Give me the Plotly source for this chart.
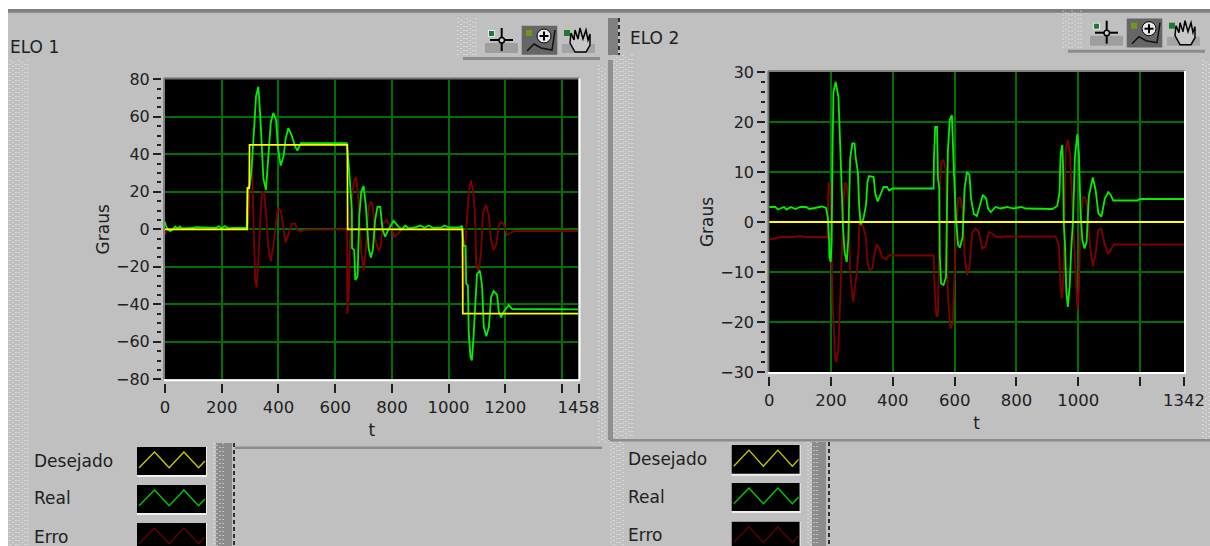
import plotly.graph_objects as go

W, H = 1210, 546

# ---- ELO 1 data ----
elo1_des_t = [0, 290, 291, 297, 298, 643, 644, 1049, 1050, 1458]
elo1_des = [0, 0, 22, 22, 45, 45, 0, 0, -45, -45]

elo1_real_t = [0, 3, 10, 18, 28, 36, 45, 52, 60, 100, 108, 180, 190, 200, 210, 225, 240, 288, 291, 298, 304, 309,
               314, 321, 329, 335, 342, 347, 356, 365, 373, 382, 392, 398, 408, 418, 425, 435, 447, 459, 467, 479, 641,
               649, 659, 659.5, 667, 671, 679, 685, 692, 700, 708, 718, 726, 733, 741, 749, 759, 767, 776, 788, 806,
               823, 835, 847, 859, 885, 900, 915, 930, 945, 975, 985, 1000, 1020, 1040, 1047, 1053, 1060, 1062, 1068,
               1071, 1077, 1082, 1088, 1094, 1100, 1110, 1118, 1124, 1133, 1142, 1150, 1159, 1171, 1177, 1185, 1194,
               1212, 1224, 1458]
elo1_real = [4, 2, 0, -1, 0, 1.5, 0.5, 1.5, 0.5, 0.7, 1.2, 0.7, 1.7, 0.5, 1.7, 0.5, 0.7, 0.7, 22, 23, 30, 40,
             53, 71, 76, 63, 41, 27, 21, 43, 57, 62, 58, 44, 34, 39, 48, 54, 50, 44, 42, 46, 46,
             32, 10, -10, -11, -27, -25, 7, 20, 23, 13, -10, -15, -11, 5, 12, 12, 0, -4, 0, 4.5,
             1.4, 0, 2, 0.5, 1.2, 2, 0.8, 2, 0.8, 1, 2, 1, 1, 1, 2, -9, -9, -29, -30,
             -55, -68, -70, -57, -39, -24, -22, -30, -52, -57, -52, -36, -33, -35, -44, -47, -44,
             -40.5, -42.5, -42.7]

elo1_err_t = [0, 8, 292, 298, 306, 309, 312, 318, 323, 329, 336, 342, 349, 356, 365, 373, 382, 392, 398, 408, 418,
              425, 435, 447, 459, 467, 479, 494, 642, 643, 649, 655, 665, 673, 680, 685, 692, 700, 708, 718, 726, 733,
              741, 753, 761, 768, 782, 794, 809, 823, 835, 1049, 1051, 1058, 1065, 1071, 1079, 1086, 1092, 1098, 1106,
              1114, 1121, 1133, 1141, 1150, 1159, 1168, 1177, 1185, 1194, 1206, 1218, 1230, 1458]
elo1_err = [-3, 0, 0, 22, 37, 20, -7, -27, -31, -18, 5, 20, 20, 9, -11, -17, -9, 5, 11.5, 10, -1,
            -7, -3, 3, 3, -0.4, -1, -0.3, 0, -45, -30, 10, 25, 28, 20, 7, -12, -22, -11, 12, 15, 12,
            -5, -11.5, -9, 3, 5, 2, -4, -2, 0, 0, -37, -10, 9, 20, 26, 21, 11, -20, -22,
            -13, 9, 13, 8, -6, -11, -8, 2, 4, 3, -3, -2, -1, -1]

# ---- ELO 2 data ----
elo2_des_t = [0, 1342]
elo2_des = [0, 0]

elo2_real_t = [0, 20, 28, 48, 56, 70, 85, 100, 120, 130, 148, 170, 184, 190, 194, 195, 199, 202, 205, 208, 215, 224,
               227, 233, 239, 244, 251, 256, 262, 269, 276, 280, 287, 291, 296, 305, 313, 318, 323, 338, 343, 351,
               359, 370, 381, 388, 399, 532, 533, 537, 543, 546, 550, 552, 556, 564, 572, 578, 584, 591, 597,
               604, 611, 617, 626, 632, 640, 648, 653, 662, 672, 681, 691, 702, 708, 717, 732, 748, 770, 790, 815, 830,
               870, 900, 916, 932, 939, 943, 948, 951, 953, 957, 961, 966, 972, 977, 983, 989, 997, 1002, 1007,
               1013, 1020, 1027, 1034, 1047, 1056, 1065, 1075, 1086, 1097, 1105, 1113, 1191, 1199, 1342]
elo2_real = [3, 3, 2.5, 3, 2.5, 3, 2.6, 3, 3, 2.6, 2.8, 3.1, 2.8, 0.7, -4, -7, -8, -4, 15, 26, 28, 25,
             20, 8, -1.3, -6, -8, -3.3, 12.7, 15.7, 15.7, 12.7, 10, 3.3, -0.5, 0.7, 3.3, 8, 9.2, 9, 5.7, 4.1,
             5.3, 7, 7, 6.3, 6.7, 6.7, 12.7, 19, 19, 8.7, 7, -7, -12.3, -12.6, -11, 14, 20.4, 21.4, 11,
             1, -4.6, -5.1, -3, 6.7, 10, 9.4, 4.7, 1.6, 1.2, 3, 5.4, 4.7, 2.7, 2, 3, 2.7, 3, 2.7, 3, 2.7,
             2.7, 2.7, 2.6, 3.2, 5.7, 13.7, 15.4, 11, -0.3, -4.3, -13.6, -17, -13, -5.6, 0.4, 13, 17.6, 13.7, 2.4,
             -3.6, -5.3, -3.9, 5.1, 8.9, 6.4, 1.7, 1.1, 4.7, 6, 5.4, 4.3, 4.3, 4.6, 4.6]

elo2_err_t = [0, 40, 75, 100, 120, 148, 184, 188, 192, 198, 200, 205, 209, 213, 217, 224, 227, 233, 239, 244, 250, 256,
              262, 267, 272, 278, 284, 289, 292, 305, 313, 318, 325, 334, 341, 348, 356, 365, 378, 386, 532, 535,
              541, 546, 548, 552, 557, 564, 572, 578, 586, 594, 599, 604, 611, 618, 626, 632, 640, 648, 656, 667,
              678, 689, 700, 710, 721, 737, 764, 818, 862, 926, 937, 943, 948, 953, 959, 966, 973, 978, 985, 991,
              997, 1002, 1007, 1015, 1024, 1029, 1037, 1047, 1056, 1065, 1074, 1085, 1096, 1105, 1115, 1342]
elo2_err = [-3.5, -3, -3, -2.8, -3, -3, -3, -3.3, 7.7, 7.7, 0, -15.7, -21.3, -27.3, -28, -25.3, -20, -8, 1.3, 7.7, 7.7, 4.7,
            -10, -13.3, -16, -12.7, -10, -5.3, -0.3, -1, -3.3, -8, -9.7, -9.3, -6.3, -4.5, -5.3, -7, -7.5, -6.7, -6.7, -13.6,
            -18.9, -18.6, -9, 7, 12, 12.4, 10.4, -14.3, -21.3, -20.3, -11.6, -3, 4.7, 4.9, 2.4, -6.6, -10.6, -9, -2.3, -1.3,
            -2, -5.3, -4.9, -2, -2.3, -3, -2.9, -2.9, -2.9, -2.9, -4.6, -13.6, -15.3, -9.6, 14.4, 16.4, 13.7, 7, -3, -12.3,
            -17.6, -13.6, -0.3, 5, 4.7, 3, -4.3, -8.9, -6.3, -1.6, -1.3, -4.3, -6.4, -5.6, -4.5, -4.5]

elo1_xticks = [0, 200, 400, 600, 800, 1000, 1200, 1400, 1458]
elo1_xlabels = ["0", "200", "400", "600", "800", "1000", "1200", "", "1458"]
elo1_yticks = [-80, -60, -40, -20, 0, 20, 40, 60, 80]
elo2_xticks = [0, 200, 400, 600, 800, 1000, 1200, 1342]
elo2_xlabels = ["0", "200", "400", "600", "800", "1000", "", "1342"]
elo2_yticks = [-30, -20, -10, 0, 10, 20, 30]
legend_names = ["Desejado", "Real", "Erro"]

# ---- style ----
BG = "#c0c0c0"
GRID = "#007000"
YEL, GRN, RED = "#ffff00", "#00f000", "#800000"
FONT = "DejaVu Sans"
TXT = "#202020"


def px(x):
    return x / W


def py(y):
    return 1 - y / H


shapes = []


def rect(x0, y0, x1, y1, fill, layer="below"):
    shapes.append(dict(type="rect", xref="paper", yref="paper", x0=px(x0), x1=px(x1), y0=py(y0), y1=py(y1),
                       fillcolor=fill, line=dict(width=0), layer=layer))


def line(x0, y0, x1, y1, color, width=1, dash="solid", layer="below"):
    shapes.append(dict(type="line", xref="paper", yref="paper", x0=px(x0), x1=px(x1), y0=py(y0), y1=py(y1),
                       line=dict(color=color, width=width, dash=dash), layer=layer))


def path(points, color, width=1, fill=None, layer="below"):
    d = "M " + " L ".join(f"{px(a):.5f},{py(b):.5f}" for a, b in points)
    s = dict(type="path", xref="paper", yref="paper", path=d, line=dict(color=color, width=width), layer=layer)
    if fill:
        s["path"] = d + " Z"
        s["fillcolor"] = fill
    shapes.append(s)


def speckle(x0, y0, x1, y1, color="#f0f0f0", step=3):
    x = x0
    i = 0
    while x < x1:
        line(x, y0 + (i % 3) * 2, x, y1, color, 1, "1px,3px")
        x += step
        i += 1


def toolbar(dx, dy):
    speckle(458 + dx, 18 + dy, 478 + dx, 55 + dy)
    rect(463 + dx, 57 + dy, 600 + dx, 60 + dy, "#8c8c8c")
    # crosshair button
    rect(485 + dx, 43 + dy, 518 + dx, 53 + dy, "#9e9e9e")
    rect(488 + dx, 30 + dy, 495 + dx, 37 + dy, "#e8e8e8")
    rect(489 + dx, 31 + dy, 494 + dx, 36 + dy, "#1f7a2f")
    line(490 + dx, 40 + dy, 513 + dx, 40 + dy, "#000000", 2)
    line(501.7 + dx, 28 + dy, 501.7 + dx, 51 + dy, "#000000", 2)
    shapes.append(dict(type="circle", xref="paper", yref="paper", x0=px(499 + dx), x1=px(504.5 + dx),
                       y0=py(43 + dy), y1=py(37.5 + dy), fillcolor="#d0d0d0",
                       line=dict(color="#000000", width=1.5), layer="below"))
    # zoom button
    rect(521.7 + dx, 25.7 + dy, 557.3 + dx, 54.7 + dy, "#666666")
    rect(526 + dx, 30 + dy, 532 + dx, 36 + dy, "#6a9a20")
    shapes.append(dict(type="circle", xref="paper", yref="paper", x0=px(537 + dx), x1=px(551 + dx),
                       y0=py(43 + dy), y1=py(29 + dy), fillcolor="#e8e8e8",
                       line=dict(color="#000000", width=1), layer="below"))
    line(539.5 + dx, 36 + dy, 548.5 + dx, 36 + dy, "#000000", 2)
    line(544 + dx, 31.5 + dy, 544 + dx, 40.5 + dy, "#000000", 2)
    path([(527 + dx, 51 + dy), (534 + dx, 44 + dy), (541 + dx, 48 + dy), (552 + dx, 50 + dy), (555 + dx, 30 + dy)],
         "#101010", 1.5)
    # hand button
    rect(562 + dx, 44 + dy, 595 + dx, 53 + dy, "#a4a4a4")
    rect(564 + dx, 30 + dy, 570 + dx, 36 + dy, "#1f7a2f")
    path([(575 + dx, 52 + dy), (570 + dx, 43 + dy), (571 + dx, 33 + dy), (574 + dx, 40 + dy), (575 + dx, 30 + dy),
          (578 + dx, 39 + dy), (580 + dx, 28 + dy), (583 + dx, 39 + dy), (586 + dx, 30 + dy), (588 + dx, 40 + dy),
          (590 + dx, 34 + dy), (590 + dx, 45 + dy), (586 + dx, 52 + dy)], "#000000", 1.5, fill="#c8c8c8")


# page frame
rect(0, 0, W, 9, "#ffffff")
rect(0, 0, 8, H, "#ffffff")
rect(8, 9, W, 12.7, "#808080")

# strips
speckle(10, 60, 30, H)
speckle(599, 65, 608, 443)
speckle(614, 55, 633, 440)
speckle(1203, 60, 1210, 440)
speckle(611, 442, 626, H)
rect(608, 18, 618, 55, "#808080")
line(619, 18, 619, 55, "#000000", 1.5, "4px,3px")
rect(608, 60, 613, 440, "#909090")
rect(610, 439, W, 441.5, "#8c8c8c")
rect(235, 446.5, 602, 449, "#8c8c8c")
rect(216, 443, 232, H, "#8c8c8c")
speckle(214, 443, 224, H)
line(234, 443, 234, H, "#000000", 1.5, "4px,3px")
rect(812, 442, 826, H, "#8c8c8c")
speckle(808, 442, 818, H)
line(829, 442, 829, H, "#000000", 1.5, "4px,3px")

toolbar(0, 0)
toolbar(605, -7.3)

# plot edges
P1 = (165, 79.3, 578.5, 379.3)
P2 = (769.2, 72, 1184, 372)
for (l, t, r, b) in (P1, P2):
    line(l - 1, t - 1, r + 1, t - 1, "#6e6e6e", 1.5, layer="above")
    line(l - 1, t - 1, l - 1, b, "#6e6e6e", 1.5, layer="above")
    line(r + 1, t - 1, r + 1, b + 1.5, "#ffffff", 2, layer="above")
    line(l - 1, b + 1, r + 1, b + 1, "#ffffff", 2, layer="above")

# legend swatches
wave_x = [0.03, 0.25, 0.46, 0.67, 0.88, 0.97]
wave_y = [0.74, 0.18, 0.74, 0.18, 0.74, 0.5]
sw_cols = ["#cccc00", "#00cc00", "#660000"]
for (x0, x1, ys) in (
        (137, 207, [(447, 475), (485, 513), (523, 551)]),
        (731.7, 800.6, [(445, 473.7), (483, 511), (521.7, 550)])):
    for (y0, y1), col in zip(ys, sw_cols):
        rect(x0, y0, x1, min(y1 + 2, H), "#f0f0f0")
        rect(x0, y0, x1 - 1, y1, "#000000")
        pts = [(x0 + (x1 - x0) * a, y0 + (y1 - y0) * b) for a, b in zip(wave_x, wave_y)]
        path(pts, col, 1.3)

fig = go.Figure()
for (tr, xa, ya, data) in (
        ("ELO 1", "x", "y", ((elo1_err_t, elo1_err, "Erro", RED, 1.8), (elo1_real_t, elo1_real, "Real", GRN, 1.8),
                             (elo1_des_t, elo1_des, "Desejado", YEL, 1.7))),
        ("ELO 2", "x2", "y2", ((elo2_err_t, elo2_err, "Erro", RED, 1.8), (elo2_real_t, elo2_real, "Real", GRN, 1.8),
                               (elo2_des_t, elo2_des, "Desejado", YEL, 1.8)))):
    for (tv, yv, name, col, w) in data:
        fig.add_trace(go.Scatter(x=tv, y=yv, mode="lines", name=name, xaxis=xa, yaxis=ya,
                                 line=dict(color=col, width=w), showlegend=False, hoverinfo="skip"))


def xaxis(P, rng, tv, tt, title):
    return dict(domain=[px(P[0]), px(P[2])], range=rng, anchor="free", position=py(P[3] + 4), side="bottom",
                tickmode="array", tickvals=tv, ticktext=tt, ticks="outside", ticklen=9, tickwidth=1.5,
                tickcolor="#202020", showline=False, zeroline=False, showgrid=True, gridcolor=GRID, gridwidth=1.6,
                tickfont=dict(family=FONT, size=16.5, color=TXT),
                title=dict(text=title, font=dict(family=FONT, size=17, color=TXT), standoff=8))


def yaxis(P, rng, tv, minor, title):
    return dict(domain=[py(P[3]), py(P[1])], range=rng, anchor="free", position=px(P[0] - 4),
                side="left", tickmode="array", tickvals=tv, ticks="outside", ticklen=8, tickwidth=1.5,
                tickcolor="#202020", showline=False, zeroline=False, showgrid=True, gridcolor=GRID, gridwidth=1.6,
                minor=dict(dtick=minor, ticks="outside", ticklen=4, tickwidth=1.5, tickcolor="#202020",
                           tickmode="linear", showgrid=False),
                tickfont=dict(family=FONT, size=16, color=TXT),
                title=dict(text=title, font=dict(family=FONT, size=17, color=TXT), standoff=1))


annotations = []
for txt, x, y in (("ELO 1", 8, 47), ("ELO 2", 628, 38)):
    annotations.append(dict(text=txt, xref="paper", yref="paper", x=px(x), y=py(y), xanchor="left", yanchor="middle",
                            showarrow=False, font=dict(family=FONT, size=17, color=TXT)))
for xt, ysx in ((32, [461, 498, 537]), (626, [459, 497, 535])):
    for name, y in zip(legend_names, ysx):
        annotations.append(dict(text=name, xref="paper", yref="paper", x=px(xt), y=py(y), xanchor="left",
                                yanchor="middle", showarrow=False, font=dict(family=FONT, size=17, color=TXT)))

fig.update_layout(
    width=W, height=H, margin=dict(l=0, r=0, t=0, b=0, autoexpand=False), autosize=False,
    paper_bgcolor=BG, plot_bgcolor="#000000", showlegend=False, shapes=shapes, annotations=annotations,
    xaxis=xaxis(P1, [0, 1458], elo1_xticks, elo1_xlabels, "t"),
    yaxis=yaxis(P1, [-80, 80], elo1_yticks, 5, "Graus"),
    xaxis2=xaxis(P2, [0, 1342], elo2_xticks, elo2_xlabels, "t"),
    yaxis2=yaxis(P2, [-30, 30], elo2_yticks, 2, "Graus"),
)

fig.write_html("out.html", config={"displayModeBar": False},
               post_script="document.body.style.margin='0';document.body.style.overflow='hidden';")
